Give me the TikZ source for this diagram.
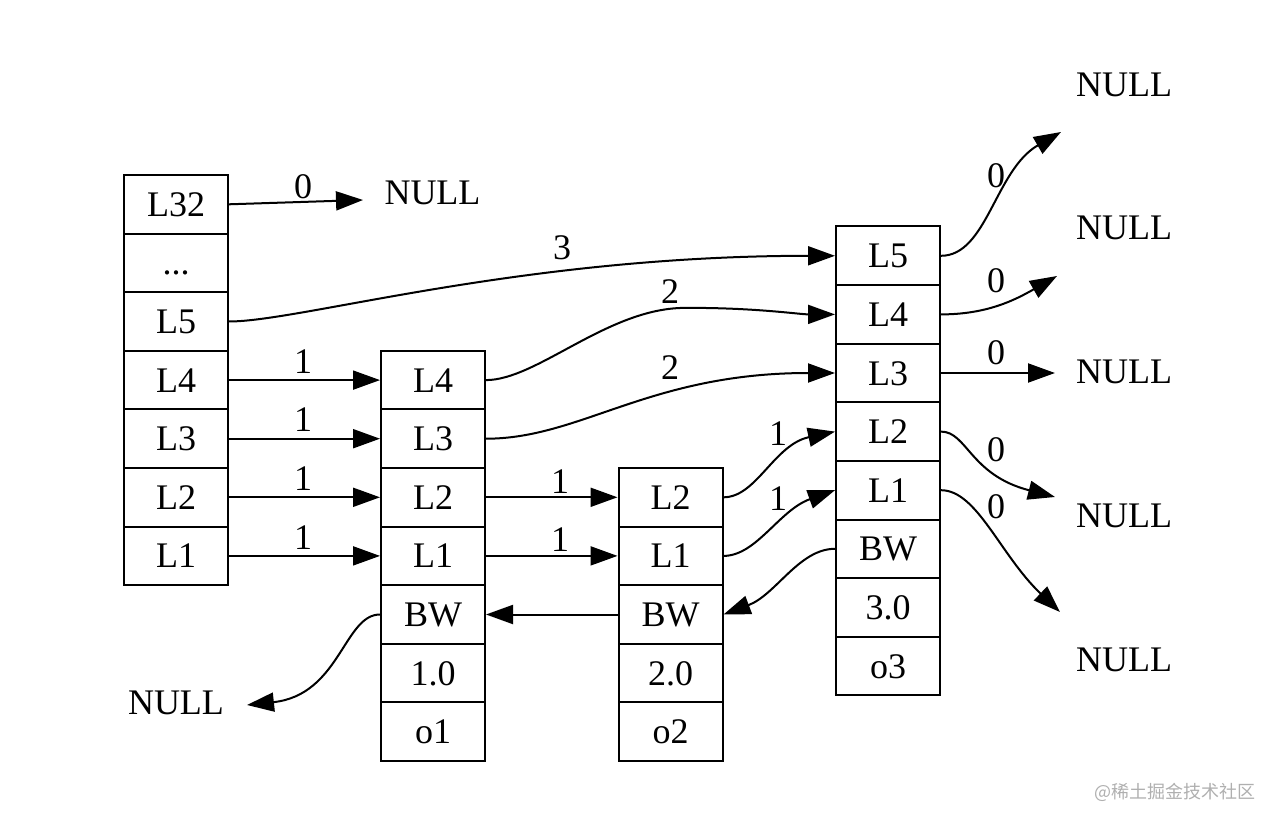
\documentclass[tikz,border=0pt]{standalone}
\usepackage{fontspec}
\setmainfont{Liberation Serif}
\newfontfamily\cjk{Noto Sans CJK SC}
\usetikzlibrary{arrows.meta}
\definecolor{wmgray}{RGB}{175,175,175}
\begin{document}
\begin{tikzpicture}[x=1pt,y=-1pt,
  every node/.style={font=\fontsize{36}{40}\selectfont},
  cell/.style={draw, line width=2pt, minimum width=104pt, minimum height=58.6pt, inner sep=0pt, text height=24pt, text depth=0pt},
  lbl/.style={inner sep=0pt},
  nulltxt/.style={inner sep=0pt},
  edge/.style={line width=2pt, -{Triangle[length=27pt,width=19pt]}}]
\useasboundingbox (0,0) rectangle (1280,826);

% header column
\node[cell] (a32) at (176,204.3) {L32};
\node[cell] (adots) at (176,262.9) {...};
\node[cell] (a5) at (176,321.5) {L5};
\node[cell] (a4) at (176,380.1) {L4};
\node[cell] (a3) at (176,438.7) {L3};
\node[cell] (a2) at (176,497.3) {L2};
\node[cell] (a1) at (176,555.9) {L1};

% node o1
\node[cell] (b4) at (433,380.1) {L4};
\node[cell] (b3) at (433,438.7) {L3};
\node[cell] (b2) at (433,497.3) {L2};
\node[cell] (b1) at (433,555.9) {L1};
\node[cell] (bbw) at (433,614.5) {BW};
\node[cell] (bsc) at (433,673.1) {1.0};
\node[cell] (bobj) at (433,731.7) {o1};

% node o2
\node[cell] (c2) at (670.5,497.3) {L2};
\node[cell] (c1) at (670.5,555.9) {L1};
\node[cell] (cbw) at (670.5,614.5) {BW};
\node[cell] (csc) at (670.5,673.1) {2.0};
\node[cell] (cobj) at (670.5,731.7) {o2};

% node o3
\node[cell] (d5) at (888,255.8) {L5};
\node[cell] (d4) at (888,314.4) {L4};
\node[cell] (d3) at (888,373.0) {L3};
\node[cell] (d2) at (888,431.6) {L2};
\node[cell] (d1) at (888,490.2) {L1};
\node[cell] (dbw) at (888,548.8) {BW};
\node[cell] (dsc) at (888,607.4) {3.0};
\node[cell] (dobj) at (888,666.0) {o3};

% NULL texts
\node[nulltxt] (n0) at (432.5,193) {NULL};
\node[nulltxt] (n1) at (1124,85) {NULL};
\node[nulltxt] (n2) at (1124,228) {NULL};
\node[nulltxt] (n3) at (1124,372) {NULL};
\node[nulltxt] (n4) at (1124,516) {NULL};
\node[nulltxt] (n5) at (1124,660) {NULL};
\node[nulltxt] (n6) at (176,703) {NULL};

% arrow end points near NULLs
\coordinate (t0) at (363,200);
\coordinate (t1) at (1061,132);
\coordinate (t2) at (1057,276);
\coordinate (t3) at (1055,373);
\coordinate (t4) at (1055,497);
\coordinate (t5) at (1060,612);
\coordinate (t6) at (247,705);

% edges
\draw[edge] (a32.east) -- (t0);
\draw[edge] (a5.east) .. controls +(72,0) and +(-316,0) .. (d5.west);
\draw[edge] (a4.east) -- (b4.west);
\draw[edge] (a3.east) -- (b3.west);
\draw[edge] (a2.east) -- (b2.west);
\draw[edge] (a1.east) -- (b1.west);
\draw[edge] (b4.east) .. controls +(50,0) and +(-75,3) .. (680,308) .. controls +(70,-1) and +(-35,0) .. (d4.west);
\draw[edge] (b3.east) .. controls +(95,0) and +(-186,0) .. (d3.west);
\draw[edge] (b2.east) -- (c2.west);
\draw[edge] (b1.east) -- (c1.west);
\draw[edge] (cbw.west) -- (bbw.east);
\draw[edge] (bbw.west) .. controls +(-36,0) and +(93,-10) .. (t6);
\draw[edge] (c2.east) .. controls +(33,0) and +(-61,13) .. (d2.west);
\draw[edge] (c1.east) .. controls +(33,0) and +(-56,20) .. (d1.west);
\draw[edge] (dbw.west) .. controls +(-36,0) and +(52.5,-19.7) .. (cbw.east);
\draw[edge] (d5.east) .. controls +(46,0) and +(-66,38) .. (t1);
\draw[edge] (d4.east) .. controls +(46,0) and +(-42,24) .. (t2);
\draw[edge] (d3.east) -- (t3);
\draw[edge] (d2.east) .. controls +(26,0) and +(-85,-22) .. (t4);
\draw[edge] (d1.east) .. controls +(36,0) and +(-60,-57) .. (t5);

% edge labels
\node[lbl] (l0) at (303,187) {0};
\node[lbl] (l1) at (303,362) {1};
\node[lbl] (l2) at (303,420) {1};
\node[lbl] (l3) at (303,479) {1};
\node[lbl] (l4) at (303,538) {1};
\node[lbl] (l5) at (560,482) {1};
\node[lbl] (l6) at (560,540) {1};
\node[lbl] (l7) at (562,248) {3};
\node[lbl] (l8) at (670,292) {2};
\node[lbl] (l9) at (670,368) {2};
\node[lbl] (l10) at (778,434) {1};
\node[lbl] (l11) at (778,499) {1};
\node[lbl] (l12) at (996,176) {0};
\node[lbl] (l13) at (996,281) {0};
\node[lbl] (l14) at (996,353) {0};
\node[lbl] (l15) at (996,450) {0};
\node[lbl] (l16) at (996,507) {0};

% watermark
\node[inner sep=0pt, text=wmgray, font=\cjk\fontsize{18}{22}\selectfont] (wm) at (1175,792) {@稀土掘金技术社区};
\end{tikzpicture}
\end{document}
